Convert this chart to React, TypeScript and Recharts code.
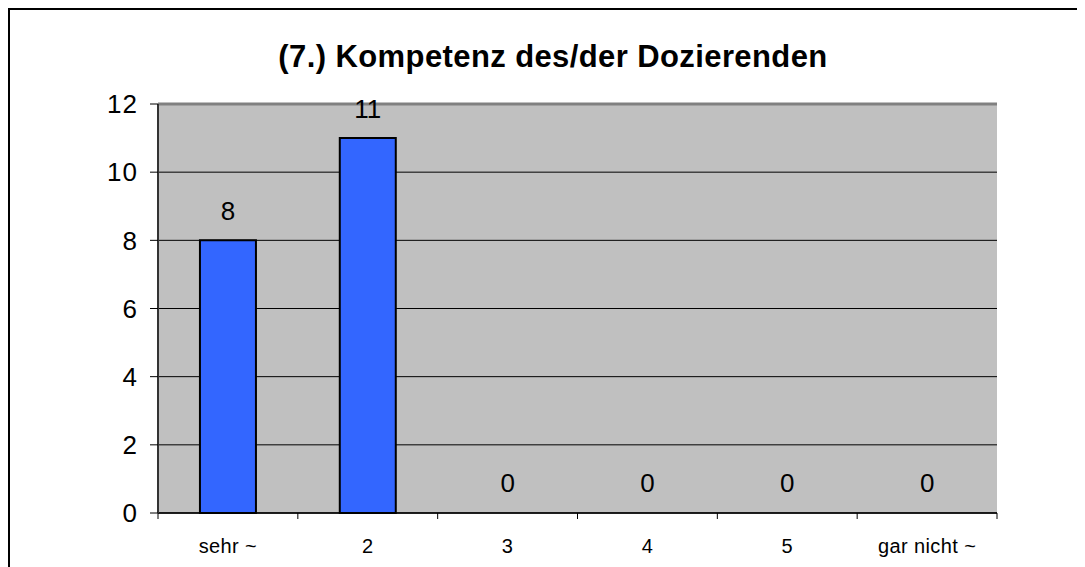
import React from 'react';
import { BarChart, Bar, XAxis, YAxis, CartesianGrid, LabelList, ReferenceLine, Rectangle } from 'recharts';

const categories = ['sehr ~', '2', '3', '4', '5', 'gar nicht ~'];
const counts = [8, 11, 0, 0, 0, 0];
const yTicks = [0, 2, 4, 6, 8, 10, 12];
const title = '(7.) Kompetenz des/der Dozierenden';

const data = categories.map((c, i) => ({ name: c, v: counts[i] }));

const FONT = '"Liberation Sans", Arial, sans-serif';
const X_TICK_SIZE = 0;
const X_TICK_MARGIN = 40;

const XTick = (props: any) => {
  const { x, y, payload, index, visibleTicksCount } = props;
  const off = payload && typeof payload.offset === 'number' ? payload.offset : 0;
  const axisY = y - X_TICK_SIZE - X_TICK_MARGIN;
  const last = index === (visibleTicksCount ?? categories.length) - 1;
  return (
    <g>
      {off > 0 && <line x1={x - off} x2={x - off} y1={axisY} y2={axisY + 6} stroke="#000" strokeWidth={1} />}
      {off > 0 && last && <line x1={x + off} x2={x + off} y1={axisY} y2={axisY + 6} stroke="#000" strokeWidth={1} />}
      <text x={x} y={y} textAnchor="middle" fontSize={20} letterSpacing={0.4} fill="#000" fontFamily={FONT}>
        {payload.value}
      </text>
    </g>
  );
};

const BarShape = (props: any) => {
  const v = props.payload ? props.payload.v : props.value;
  if (!v) return <g />;
  return <Rectangle {...props} />;
};

export default function App() {
  return (
    <div
      style={{
        position: 'relative',
        width: 1077,
        height: 559,
        boxSizing: 'border-box',
        borderTop: '2px solid #000',
        borderLeft: '2px solid #000',
        background: '#fff',
        fontFamily: FONT,
      }}
    >
      <div
        style={{
          position: 'absolute',
          left: 0,
          top: 32,
          width: 1086,
          textAlign: 'center',
          fontSize: 31,
          lineHeight: '30px',
          fontWeight: 'bold',
          letterSpacing: 0.4,
          color: '#000',
        }}
      >
        {title}
      </div>
      <BarChart
        width={1075}
        height={557}
        data={data}
        margin={{ top: 94, right: 88, bottom: 0, left: 0 }}
        barCategoryGap="30%"
        style={{ position: 'absolute', left: 0, top: 0 }}
      >
        <CartesianGrid
          yAxisId="l"
          xAxisId="c"
          vertical={false}
          stroke="#000"
          strokeOpacity={1}
          fill="#c0c0c0"
          fillOpacity={1}
        />
        <XAxis
          xAxisId="c"
          dataKey="name"
          height={54}
          tickLine={false}
          tickSize={X_TICK_SIZE}
          tickMargin={X_TICK_MARGIN}
          axisLine={{ stroke: '#000', strokeWidth: 1.5 }}
          tick={<XTick />}
          interval={0}
        />
        <YAxis
          yAxisId="l"
          width={148}
          domain={[0, 12]}
          ticks={yTicks}
          interval={0}
          tickSize={8}
          tickMargin={12}
          tickLine={{ stroke: '#000' }}
          axisLine={{ stroke: '#333', strokeWidth: 2 }}
          tick={{ fontSize: 26, fill: '#000', fontFamily: FONT, letterSpacing: 1 }}
        />
        <YAxis
          yAxisId="r"
          orientation="right"
          width={0}
          domain={[0, 12]}
          ticks={yTicks}
          tick={false}
          tickLine={false}
          axisLine={{ stroke: '#808080', strokeWidth: 3 }}
        />
        <ReferenceLine yAxisId="l" xAxisId="c" y={12} stroke="#808080" strokeWidth={3} />
        <Bar
          xAxisId="c"
          yAxisId="l"
          dataKey="v"
          fill="#3366ff"
          stroke="#000"
          strokeWidth={2}
          minPointSize={1}
          shape={BarShape}
          isAnimationActive={false}
        >
          <LabelList dataKey="v" position="top" offset={20} fontSize={26} fill="#000" fontFamily={FONT} />
        </Bar>
      </BarChart>
    </div>
  );
}
